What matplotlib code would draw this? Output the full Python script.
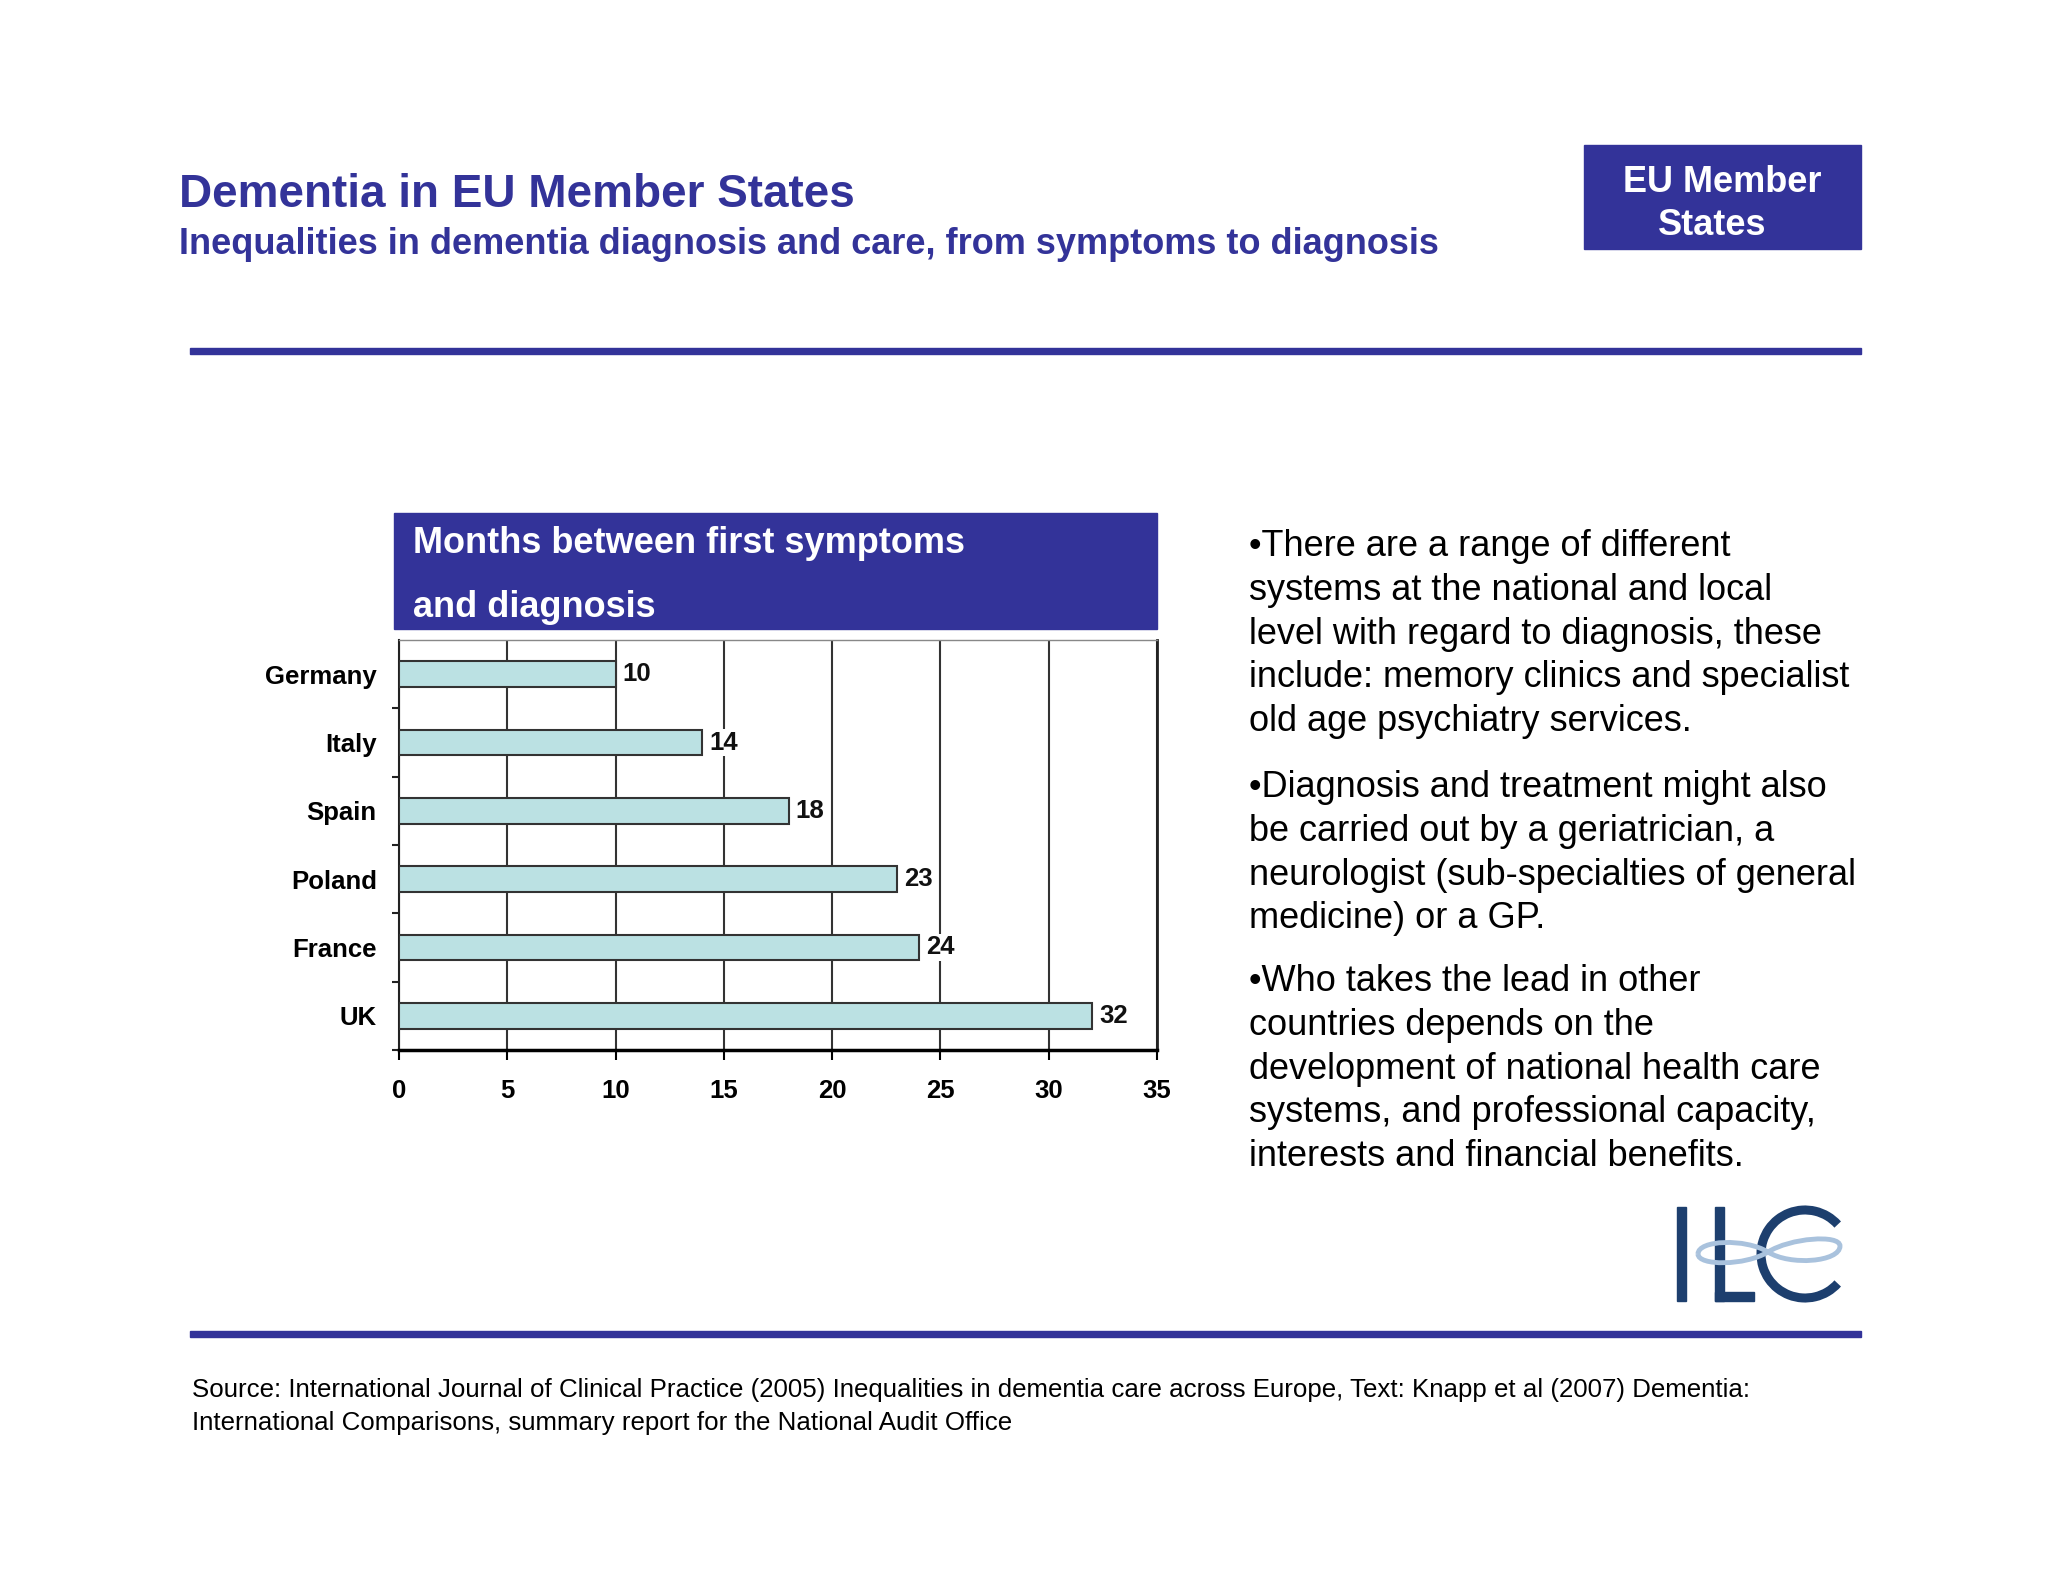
import matplotlib.pyplot as plt
from matplotlib.patches import Rectangle, Arc, PathPatch
from matplotlib.path import Path

plt.rcParams['font.family'] = ['Liberation Sans', 'DejaVu Sans']

# Data
countries = ['Germany', 'Italy', 'Spain', 'Poland', 'France', 'UK']
months = [10, 14, 18, 23, 24, 32]
x_ticks = [0, 5, 10, 15, 20, 25, 30, 35]

title = 'Dementia in EU Member States'
subtitle = 'Inequalities in dementia diagnosis and care, from symptoms to diagnosis'
chart_title = ['Months between first symptoms', 'and diagnosis']
bullets = [
    ['\u2022There are a range of different',
     'systems at the national and local',
     'level with regard to diagnosis, these',
     'include: memory clinics and specialist',
     'old age psychiatry services.'],
    ['\u2022Diagnosis and treatment might also',
     'be carried out by a geriatrician, a',
     'neurologist (sub-specialties of general',
     'medicine) or a GP.'],
    ['\u2022Who takes the lead in other',
     'countries depends on the',
     'development of national health care',
     'systems, and professional capacity,',
     'interests and financial benefits.'],
]
source = ['Source: International Journal of Clinical Practice (2005) Inequalities in dementia care across Europe, Text: Knapp et al (2007) Dementia:',
          'International Comparisons, summary report for the National Audit Office']

navy = '#333399'
bar_color = '#BBE1E3'

W, H = 2048, 1582
fig = plt.figure(figsize=(W / 100, H / 100), dpi=100)

# background layer in pixel coordinates
bg = fig.add_axes([0, 0, 1, 1])
bg.set_xlim(0, W)
bg.set_ylim(H, 0)
bg.axis('off')

bg.text(179, 207, title, fontsize=33, fontweight='bold', color=navy, va='baseline')
bg.text(179, 254, subtitle, fontsize=26, fontweight='bold', color=navy, va='baseline')

bg.add_patch(Rectangle((1584, 145), 277, 104, color=navy))
bg.text(1722, 192, 'EU Member', fontsize=26, fontweight='bold', color='white', ha='center', va='baseline')
bg.text(1712, 235, 'States', fontsize=26, fontweight='bold', color='white', ha='center', va='baseline')

bg.add_patch(Rectangle((190, 348), 1671, 6, color=navy))
bg.add_patch(Rectangle((190, 1331), 1671, 6, color=navy))

# chart header box
bg.add_patch(Rectangle((394, 513), 763, 116, color=navy))
bg.text(413, 553, chart_title[0], fontsize=26, fontweight='bold', color='white', va='baseline')
bg.text(413, 617, chart_title[1], fontsize=26, fontweight='bold', color='white', va='baseline')

# bullet text
para_y = [556, 797, 991]
for lines, y0 in zip(bullets, para_y):
    for i, line in enumerate(lines):
        bg.text(1249, y0 + i * 43.8, line, fontsize=26, color='black', va='baseline')

for i, line in enumerate(source):
    bg.text(192, 1397 + i * 33, line, fontsize=18.6, color='black', va='baseline')

# ILC logo
logo_c = '#1D3F6E'
bg.add_patch(Rectangle((1677, 1207), 9, 94, color=logo_c))
bg.add_patch(Rectangle((1715, 1207), 9, 94, color=logo_c))
bg.add_patch(Rectangle((1715, 1292), 39, 9, color=logo_c))
bg.add_patch(Arc((1805, 1254), 88, 88, theta1=42, theta2=318, color=logo_c, lw=6.5))
swoosh = Path([(1698, 1254), (1698, 1240), (1745, 1238), (1768, 1252),
               (1790, 1266), (1840, 1262), (1840, 1246),
               (1840, 1234), (1790, 1238), (1768, 1252),
               (1745, 1266), (1698, 1266), (1698, 1254)],
              [Path.MOVETO, Path.CURVE4, Path.CURVE4, Path.CURVE4,
               Path.CURVE4, Path.CURVE4, Path.CURVE4,
               Path.CURVE4, Path.CURVE4, Path.CURVE4,
               Path.CURVE4, Path.CURVE4, Path.CURVE4])
bg.add_patch(PathPatch(swoosh, facecolor='none', edgecolor='#A9C2DD', lw=3.5))

# bar chart
ax = fig.add_axes([399 / W, 1 - 1050 / H, (1157 - 399) / W, (1050 - 640) / H])
ypos = list(range(len(countries)))
ax.barh(ypos, months, height=0.38, color=bar_color, edgecolor='#333333', linewidth=1.5, zorder=3)
for y, v in zip(ypos, months):
    ax.annotate(str(v), (v, y), xytext=(5, 0), textcoords='offset points',
                ha='left', va='center', fontsize=18.5, fontweight='bold', color='#111111',
                bbox=dict(boxstyle='square,pad=0.05', facecolor='white', edgecolor='none'),
                zorder=4)

ax.set_xlim(0, 35)
ax.set_ylim(len(countries) - 0.5, -0.5)
ax.set_xticks(x_ticks)
ax.set_xticklabels([str(t) for t in x_ticks], fontsize=18.5, fontweight='bold')
ax.set_yticks(ypos)
ax.set_yticklabels(countries, fontsize=18.5, fontweight='bold')
ax.set_yticks([p + 0.5 for p in ypos], minor=True)
ax.tick_params(axis='y', which='major', length=0, pad=16)
ax.tick_params(axis='y', which='minor', length=5, width=1.5, color='#222222')
ax.tick_params(axis='x', which='major', length=7, width=1.5, pad=14, direction='out')
ax.grid(axis='x', color='#333333', linewidth=1.5, zorder=1)

ax.spines['bottom'].set_linewidth(2.5)
ax.spines['bottom'].set_color('black')
ax.spines['left'].set_linewidth(1.5)
ax.spines['left'].set_color('#222222')
ax.spines['right'].set_linewidth(2)
ax.spines['right'].set_color('#222222')
ax.spines['top'].set_linewidth(1)
ax.spines['top'].set_color('#888888')

fig.savefig('out.png', dpi=100)
